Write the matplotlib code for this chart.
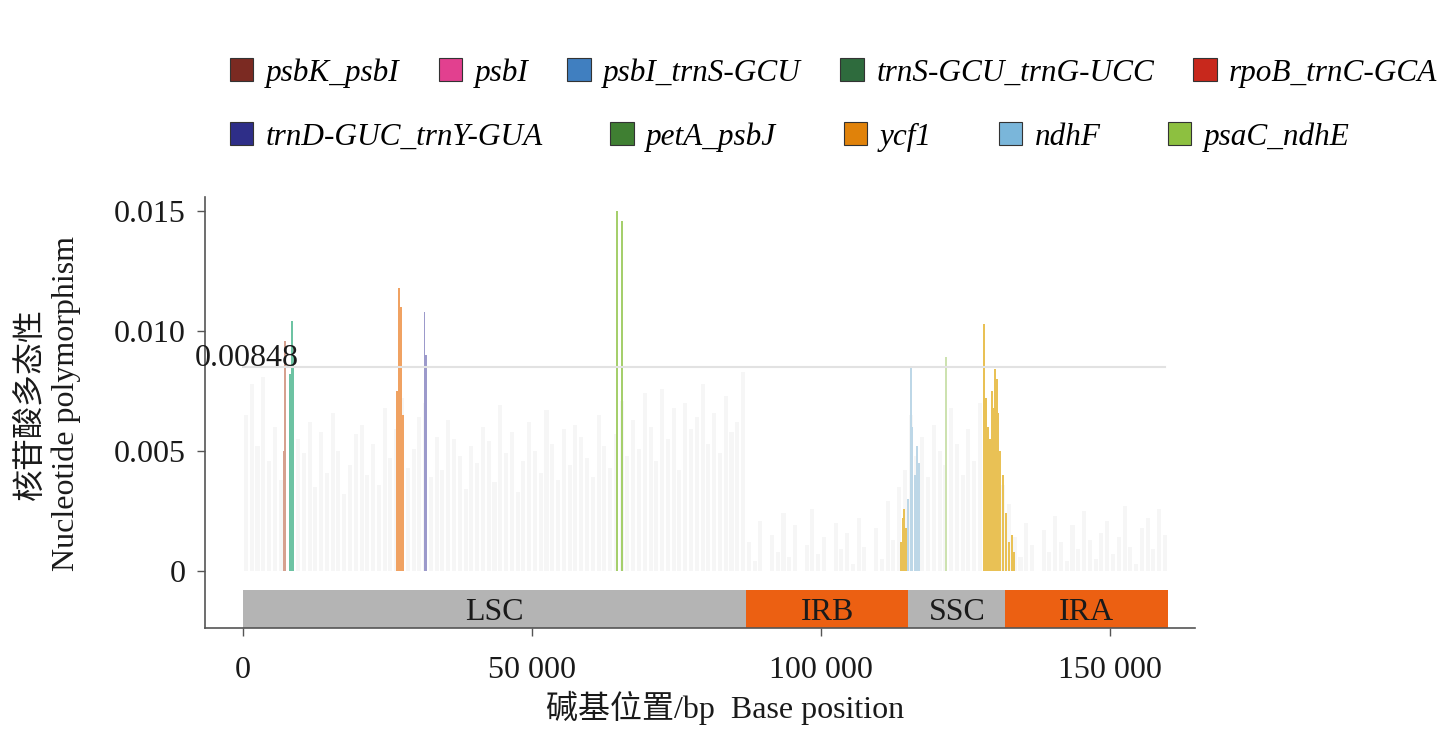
import matplotlib
matplotlib.use("Agg")
import matplotlib.pyplot as plt
from matplotlib.patches import Patch

plt.rcParams['font.family'] = ['Liberation Serif', 'Noto Sans CJK SC']

# background Pi, in units of 1e-3, one window per 1000 bp (0 .. 159000)
bg_step = 1000
bg_pi = [
    6.5, 7.8, 5.2, 8.1, 4.6, 6.0, 3.8, 0.0, 0.0, 5.5,
    4.9, 6.2, 3.5, 5.8, 4.1, 6.6, 5.0, 3.2, 4.4, 5.7,
    6.1, 4.0, 5.3, 3.6, 6.8, 4.7, 5.9, 7.2, 4.3, 5.1,
    6.4, 7.0, 3.9, 5.6, 4.2, 6.3, 5.5, 4.8, 3.4, 5.2,
    4.5, 6.0, 5.4, 3.7, 6.9, 4.9, 5.8, 3.3, 4.6, 6.2,
    5.0, 4.1, 6.7, 5.3, 3.8, 5.9, 4.4, 6.1, 5.6, 4.7,
    3.9, 6.5, 5.2, 4.3, 5.7, 7.1, 4.8, 6.3, 5.1, 7.4,
    6.0, 4.6, 7.6, 5.5, 6.8, 4.2, 7.0, 5.9, 6.4, 7.8,
    5.3, 6.6, 4.9, 7.3, 5.8, 6.2, 8.3,
    # IRB
    1.2, 0.4, 2.1, 0.0, 1.5, 0.8, 2.4, 0.6, 1.9, 0.0, 1.1, 2.6, 0.7, 1.4,
    0.0, 2.0, 0.9, 1.6, 0.3, 2.2, 1.0, 0.0, 1.8, 0.5, 2.9, 1.3, 3.5, 4.2,
    # SSC
    6.5, 4.8, 5.6, 3.9, 6.1, 5.0, 4.4, 6.8, 5.3, 4.0, 5.9, 4.6, 7.0, 5.5,
    4.3, 6.2, 3.6,
    # IRA
    2.8, 1.4, 0.6, 2.0, 1.1, 0.0, 1.7, 0.8, 2.3, 1.2, 0.4, 1.9, 0.9, 2.5,
    1.3, 0.5, 1.6, 2.1, 0.7, 1.4, 2.7, 1.0, 0.3, 1.8, 2.2, 0.9, 2.6, 1.5,
]

# hypervariable regions
hv_names = ['psbK_psbI', 'psbI', 'psbI_trnS-GCU', 'trnS-GCU_trnG-UCC',
            'rpoB_trnC-GCA', 'trnD-GUC_trnY-GUA', 'petA_psbJ', 'ycf1',
            'ndhF', 'psaC_ndhE']
hv_legend_colors = ['#7b2a22', '#e2408f', '#407fc0', '#2e6b3d', '#c8281c',
                    '#2e2e88', '#3f7f32', '#e0820a', '#7ab6da', '#8dc040']
hv_plot_colors = ['#d6a18f', '#6dc3a3', '#6dc3a3', '#6dc3a3', '#f0a262',
                  '#9c9acb', '#a5cf6c', '#e9c155', '#bdd7e7', '#cde2b0']
hv_pos = [
    [7000, 7200],
    [8100],
    [8400],
    [8700],
    [26700, 27000, 27300, 27600],
    [31400, 31600],
    [64700, 65600],
    [113800, 114100, 114400, 114700, 128200, 128500, 128900, 129200,
     129500, 129800, 130100, 130400, 130700, 131000, 131500, 132000,
     132500, 133000, 133400],
    [115100, 115500, 115800, 116200, 116600, 117000],
    [121600],
]
hv_pi = [
    [0.0050, 0.0096],
    [0.0082],
    [0.0104],
    [0.0090],
    [0.0075, 0.0118, 0.0110, 0.0065],
    [0.0108, 0.0090],
    [0.0150, 0.0146],
    [0.0012, 0.0022, 0.0026, 0.0018, 0.0103, 0.0072, 0.0060, 0.0055,
     0.0075, 0.0068, 0.0084, 0.0080, 0.0066, 0.0050, 0.0040, 0.0024,
     0.0012, 0.0015, 0.0008],
    [0.0030, 0.0085, 0.0060, 0.0040, 0.0052, 0.0045],
    [0.0089],
]

threshold = 0.00848

# quadripartite structure
reg_names = ['LSC', 'IRB', 'SSC', 'IRA']
reg_start = [0, 87000, 115100, 131900]
reg_end = [87000, 115100, 131900, 160000]
reg_colors = ['#b4b4b4', '#ec6012', '#b4b4b4', '#ec6012']

xticks = [0, 50000, 100000, 150000]
xticklabels = ['0', '50 000', '100 000', '150 000']
yticks = [0, 0.005, 0.010, 0.015]
yticklabels = ['0', '0.005', '0.010', '0.015']

fig = plt.figure(figsize=(14.4, 7.3), dpi=100)
ax = fig.add_axes([0.1424, 0.1397, 0.6875, 0.5904])
ax.set_xlim(-6574, 164700)
ax.set_ylim(-0.002375, 0.01558)

bg_x = [i * bg_step + bg_step / 2 for i in range(len(bg_pi))]
ax.bar(bg_x, [v / 1000 for v in bg_pi], width=bg_step * 0.7, color='#f6f6f6',
       linewidth=0, zorder=1)

for pos, vals, col in zip(hv_pos, hv_pi, hv_plot_colors):
    ax.bar(pos, vals, width=320, color=col, linewidth=0, zorder=2)

ax.plot([0, 159500], [threshold, threshold], color='#e2e2e2', lw=1.5, zorder=3)
ax.text(-8300, threshold + 0.00006, '%.5f' % threshold, fontsize=23,
        ha='left', va='baseline', color='#1a1a1a', zorder=4)

bar_bottom = -0.002375
bar_h = 0.002375 - 0.00079
for name, s, e, c in zip(reg_names, reg_start, reg_end, reg_colors):
    ax.bar((s + e) / 2, bar_h, width=e - s, bottom=bar_bottom, color=c,
           linewidth=0, zorder=2)
    ax.text((s + e) / 2, bar_bottom + bar_h / 2, name, fontsize=23,
            ha='center', va='center_baseline', color='#1a1a1a', zorder=4)

for side in ['top', 'right']:
    ax.spines[side].set_visible(False)
for side in ['left', 'bottom']:
    ax.spines[side].set_color('#555555')
    ax.spines[side].set_linewidth(1.2)

ax.set_xticks(xticks)
ax.set_xticklabels(xticklabels)
ax.set_yticks(yticks)
ax.set_yticklabels(yticklabels)
ax.tick_params(axis='both', labelsize=23, colors='#555555', labelcolor='#1a1a1a',
               length=6, width=1)
ax.tick_params(axis='x', pad=14)
ax.tick_params(axis='y', pad=8)

ax.set_xlabel('碱基位置/bp  Base position', fontsize=23, color='#1a1a1a')
ax.xaxis.set_label_coords(0.525, -0.145)
ax.set_ylabel('核苷酸多态性\nNucleotide polymorphism', fontsize=23,
              color='#1a1a1a', linespacing=1.25)
ax.yaxis.set_label_coords(-0.125, 0.52)

handles = [Patch(facecolor=c, edgecolor='#333333', linewidth=0.8)
           for c in hv_legend_colors]
leg_kw = dict(frameon=False, handlelength=0.75, handleheight=0.75,
              handletextpad=0.4, borderaxespad=0, borderpad=0,
              prop={'family': 'Liberation Serif', 'style': 'italic', 'size': 22.5})
leg1 = fig.legend(handles[:5], hv_names[:5], ncol=5, loc='center left',
                  bbox_to_anchor=(230 / 1440, 1 - 73 / 730), columnspacing=1.25,
                  **leg_kw)
leg2 = fig.legend(handles[5:], hv_names[5:], ncol=5, loc='center left',
                  bbox_to_anchor=(230 / 1440, 1 - 137 / 730), columnspacing=2.15,
                  **leg_kw)

fig.savefig('out.png', dpi=100)
